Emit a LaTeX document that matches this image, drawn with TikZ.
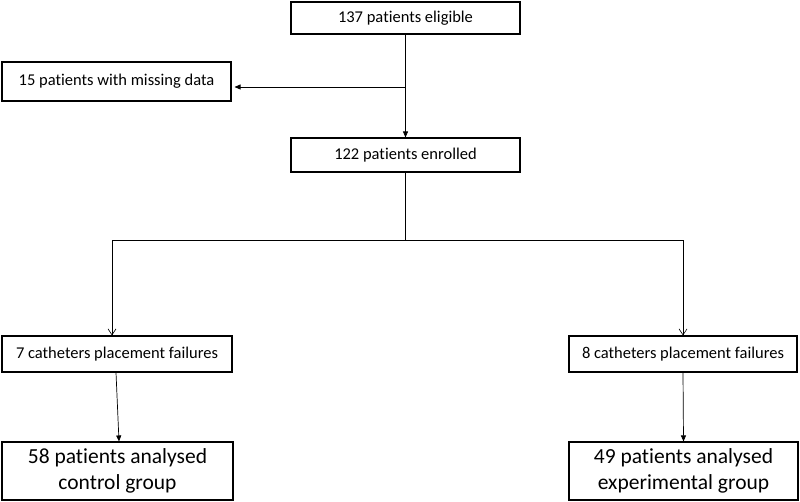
\documentclass[tikz,border=0pt]{standalone}
\usepackage{fontspec}
\setmainfont{Carlito}[Ligatures=NoCommon]
\usetikzlibrary{arrows.meta}
\begin{document}
\begin{tikzpicture}[x=1pt,y=-1pt,
    flowBox/.style={rectangle,draw=black,line width=1.1pt,inner sep=0pt,minimum width=229pt,minimum height=34pt,font=\fontsize{16.5}{19}\selectfont},
    flowBoxL/.style={flowBox,minimum height=58pt,align=center,font=\fontsize{21.5}{26}\selectfont},
    flowArrow/.style={-{Triangle[length=6pt,width=5pt]},line width=0.7pt},
    flowOpen/.style={-{Straight Barb[length=6pt,width=8pt]},line width=0.6pt},
]
\useasboundingbox (0,0) rectangle (800,502);
% top part
\node[flowBox,minimum height=32pt] (elig) at (405.5,18) {137 patients eligible};
\node[flowBox,minimum height=39pt] (miss) at (116.5,81.5) {15 patients with missing data};
\node[flowBox] (enrol) at (405.5,155) {122 patients enrolled};
\coordinate (split) at (405.5,87);
\draw[flowArrow] (elig.south) -- (enrol.north);
\draw[flowArrow,shorten >=3pt] (split) -- (miss.east |- split);
% randomisation
\node[flowBox,minimum width=230pt,minimum height=36pt] (failL) at (117,354) {7 catheters placement failures};
\node[flowBox,minimum width=228pt,minimum height=36pt] (failR) at (683,354) {8 catheters placement failures};
\coordinate (branch) at (405.5,240);
\coordinate (branchL) at (112,240);
\coordinate (branchR) at (683,240);
\draw[line width=0.6pt] (enrol.south) -- (branch);
\draw[flowOpen] (branch) -- (branchL) -- (failL.north -| branchL);
\draw[flowOpen] (branch) -- (branchR) -- (failR.north -| branchR);
% analysed
\node[flowBoxL,minimum width=231pt] (anaL) at (117.5,471) {58 patients analysed\\control group};
\node[flowBoxL] (anaR) at (683.5,471) {49 patients analysed\\experimental group};
\draw[flowArrow] ([xshift=-1pt]failL.south) -- ([xshift=1.5pt]anaL.north);
\draw[flowArrow] (failR.south) -- (anaR.north);
\end{tikzpicture}
\end{document}
